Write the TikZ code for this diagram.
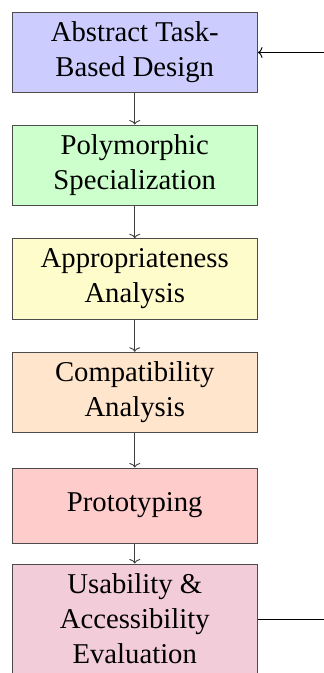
\documentclass[tikz,border=0pt]{standalone}
\usepackage{fontspec}
\setmainfont{Liberation Serif}
\usetikzlibrary{arrows.meta}
\begin{document}
\begin{tikzpicture}[x=1pt,y=-1pt,
  stagebox/.style={draw=black!70, line width=1pt, minimum width=245.5pt, inner sep=4pt,
    align=center, font=\fontsize{28.7}{35}\selectfont},
  flow/.style={draw=black!75, line width=0.9pt, -{To[length=4.5pt,width=11pt]}},
  back/.style={draw=black, line width=0.9pt}]
\useasboundingbox (0,0) rectangle (324,673);
\clip (0,0) rectangle (324,673);
\node[stagebox, fill=blue!20, minimum height=80.5pt] (a) at (134.75,52.5) {Abstract Task-\\Based Design};
\node[stagebox, fill=green!20, minimum height=80.5pt] (b) at (134.75,165.3) {Polymorphic\\Specialization};
\node[stagebox, fill=yellow!20, minimum height=80.5pt] (c) at (134.75,279) {Appropriateness\\Analysis};
\node[stagebox, fill=orange!20, minimum height=80.5pt] (d) at (134.75,392.5) {Compatibility\\Analysis};
\node[stagebox, fill=red!20, minimum height=75pt] (e) at (134.75,505.5) {Prototyping};
\node[stagebox, fill=purple!20, minimum height=110pt] (f) at (134.75,619) {Usability \&\\Accessibility\\Evaluation};
\draw[flow] (a) -- (b);
\draw[flow] (b) -- (c);
\draw[flow] (c) -- (d);
\draw[flow] (d) -- (e);
\draw[flow] (e) -- (f);
\coordinate (r1) at (340,619);
\coordinate (r2) at (340,52.5);
\draw[back, -{To[length=4.5pt,width=11pt]}] (f.east) -- (r1) -- (r2) -- (a.east);
\end{tikzpicture}
\end{document}
